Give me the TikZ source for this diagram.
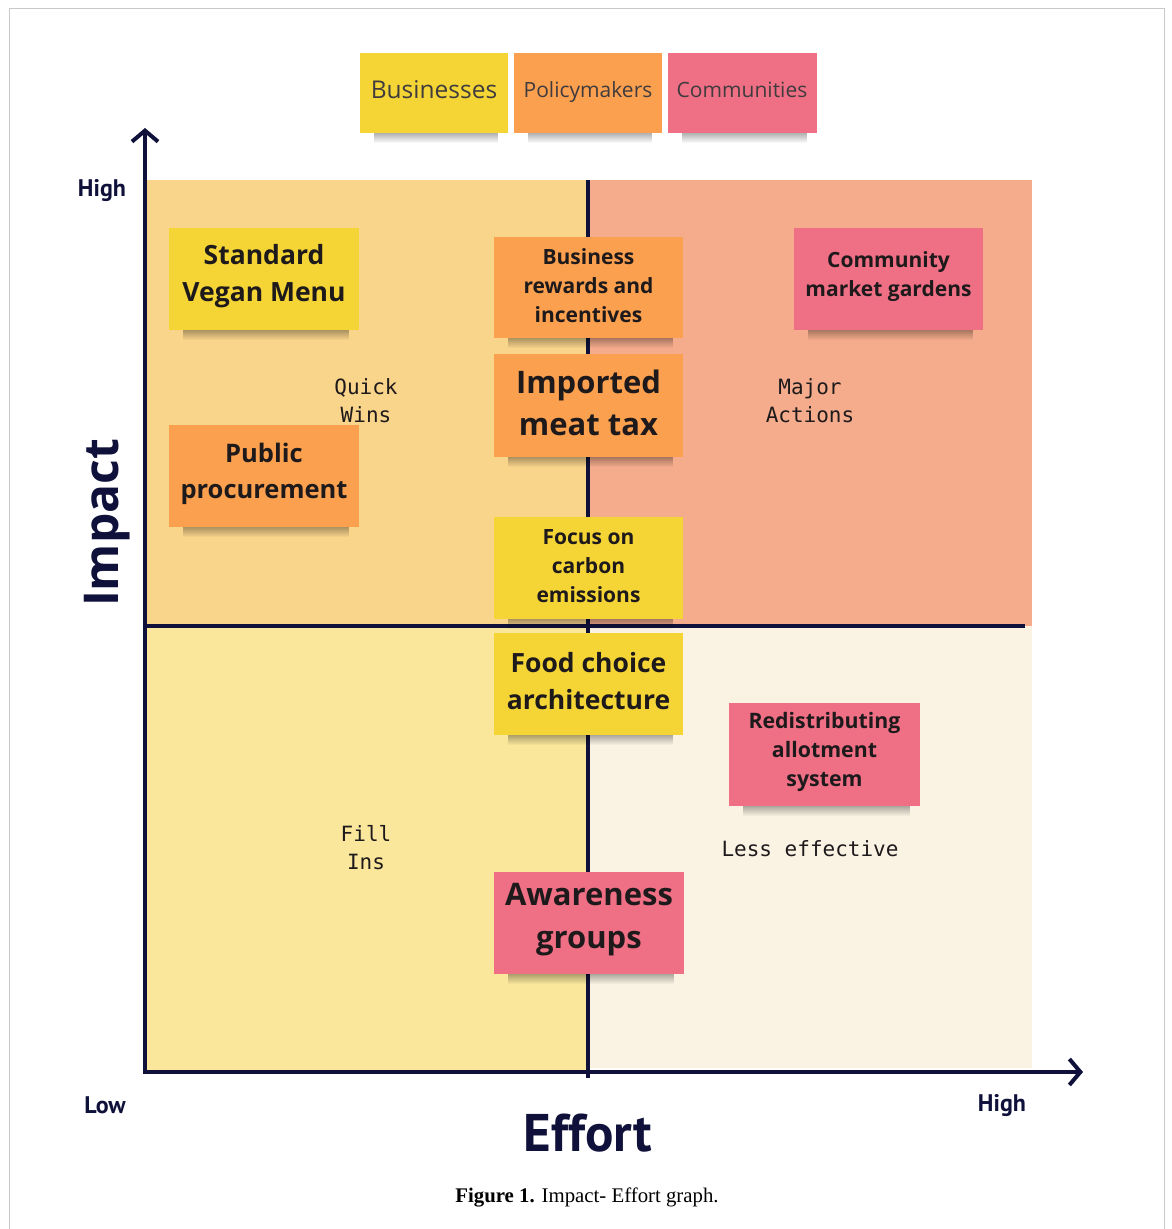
\documentclass[tikz,border=0pt]{standalone}
\usepackage{fontspec}
\setmainfont{Open Sans}
\newfontfamily\axisfont{PT Sans}
\newfontfamily\quadfont{DejaVu Sans Mono}
\newfontfamily\capfont{Liberation Serif}
\usetikzlibrary{arrows.meta,fadings}

\definecolor{navy}{HTML}{10113A}
\definecolor{quadTL}{HTML}{F9D48B}
\definecolor{quadTR}{HTML}{F4AC8C}
\definecolor{quadBL}{HTML}{FAE79C}
\definecolor{quadBR}{HTML}{FAF3E4}
\definecolor{noteYellow}{HTML}{F4D535}
\definecolor{noteOrange}{HTML}{FBA04E}
\definecolor{notePink}{HTML}{EF6F85}
\definecolor{inkdark}{HTML}{1E1A1C}
\definecolor{framegray}{HTML}{C9C9C9}

% sticky note paper with its soft shadow: x1, y1, x2, y2, colour
\newcommand\paper[5]{%
  \fill[black, fill opacity=0.40, path fading=south]
    (#1+14,#4-3) rectangle (#3-10,#4+10);
  \fill[#5] (#1,#2) rectangle (#3,#4);%
}

\begin{document}
\begin{tikzpicture}[x=1pt, y=-1pt,
  notetext/.style={inner sep=0pt, outer sep=0pt, align=center, text=inkdark},
  legendtext/.style={inner sep=0pt, outer sep=0pt, anchor=base, text=inkdark!85,
    font=\fontsize{24.5}{28}\selectfont},
  quadlabel/.style={align=center, text=inkdark, font=\quadfont\fontsize{21}{28}\selectfont},
  axislabel/.style={text=navy, font=\axisfont\bfseries\fontsize{24}{28}\selectfont},
  axisline/.style={draw=navy, line width=4pt},
]
\useasboundingbox (0,0) rectangle (1171,1229);
\fill[white] (0,0) rectangle (1171,1229);
\draw[framegray, line width=1pt] (9,8) -- (1164,8) -- (1164,1240) (9,8) -- (9,1240);

% quadrants
\fill[quadTL] (145,180) rectangle (588,626);
\fill[quadTR] (588,180) rectangle (1032,626);
\fill[quadBL] (145,626) rectangle (588,1072);
\fill[quadBR] (588,626) rectangle (1032,1068);

% quadrant names
\node[quadlabel] (quick) at (366,401) {Quick\\Wins};
\node[quadlabel] (major) at (810,401) {Major\\Actions};
\node[quadlabel] (fill)  at (366,848) {Fill\\Ins};
\node[quadlabel] (less)  at (810,849) {Less effective};

% dividing lines and axes
\coordinate (midtop) at (588,180);
\coordinate (midbot) at (588,1078);
\coordinate (midleft) at (145,626);
\coordinate (midright) at (1025,626);
\coordinate (origin) at (145,1072);
\coordinate (ytip) at (145,128);
\coordinate (xtip) at (1083,1072);
\draw[axisline] (midtop) -- (midbot);
\draw[axisline] (midleft) -- (midright);
\draw[axisline, -{Straight Barb[length=11pt,width=26pt]}] ([yshift=-2pt]origin) -- (ytip);
\draw[axisline, -{Straight Barb[length=11pt,width=26pt]}] ([xshift=-2pt]origin) -- (xtip);

% legend
\paper{360}{53}{508}{133}{noteYellow}
\node[legendtext] (lbus) at (434,98) {Businesses};
\paper{514}{53}{662}{133}{noteOrange}
\node[legendtext, font=\fontsize{21}{26}\selectfont] (lpol) at (588,97) {Policymakers};
\paper{668}{53}{817}{133}{notePink}
\node[legendtext, font=\fontsize{21}{26}\selectfont] (lcom) at (742,97) {Communities};

% measures
\paper{169}{228}{359}{330}{noteYellow}
\node[notetext, font=\fontsize{26.5}{37}\selectfont\bfseries] (vegan) at (264,276) {Standard\\Vegan Menu};
\paper{169}{425}{359}{527}{noteOrange}
\node[notetext, font=\fontsize{25.5}{36}\selectfont\bfseries] (procure) at (264,474) {Public\\procurement};
\paper{494}{237}{683}{338}{noteOrange}
\node[notetext, font=\fontsize{21}{29}\selectfont\bfseries] (rewards) at (588.5,286) {Business\\rewards and\\incentives};
\paper{494}{354}{683}{457}{noteOrange}
\node[notetext, font=\fontsize{31}{42}\selectfont\bfseries] (meattax) at (588.5,403) {Imported\\meat tax};
\paper{494}{517}{683}{619}{noteYellow}
\node[notetext, font=\fontsize{21}{29}\selectfont\bfseries] (carbon) at (588.5,566) {Focus on\\carbon\\emissions};
\paper{494}{633}{683}{735}{noteYellow}
\node[notetext, font=\fontsize{26.5}{37}\selectfont\bfseries] (choice) at (588.5,681) {Food choice\\architecture};
\paper{494}{872}{684}{974}{notePink}
\node[notetext, font=\fontsize{31}{43}\selectfont\bfseries] (aware) at (589,920) {Awareness\\groups};
\paper{794}{228}{983}{330}{notePink}
\node[notetext, font=\fontsize{21}{29}\selectfont\bfseries] (gardens) at (888.5,277) {Community\\market gardens};
\paper{729}{703}{920}{806}{notePink}
\node[notetext, font=\fontsize{21.3}{29}\selectfont\bfseries] (allot) at (824.5,752) {Redistributing\\allotment\\system};

% axis labels
\node[axislabel] (yhigh) at (102,191) {High};
\node[axislabel] (xlow) at (105,1105) {Low};
\node[axislabel] (xhigh) at (1002,1105) {High};
\node[text=navy, font=\axisfont\bfseries\fontsize{53}{58}\selectfont] (effort) at (588,1133) {Effort};
\node[text=navy, rotate=90, font=\bfseries\fontsize{48}{52}\selectfont] (impact) at (107,523) {Impact};

% caption
\node[font=\capfont\fontsize{20.8}{24}\selectfont] (caption) at (587,1197)
  {\textbf{Figure 1.} Impact- Effort graph.};
\end{tikzpicture}
\end{document}
